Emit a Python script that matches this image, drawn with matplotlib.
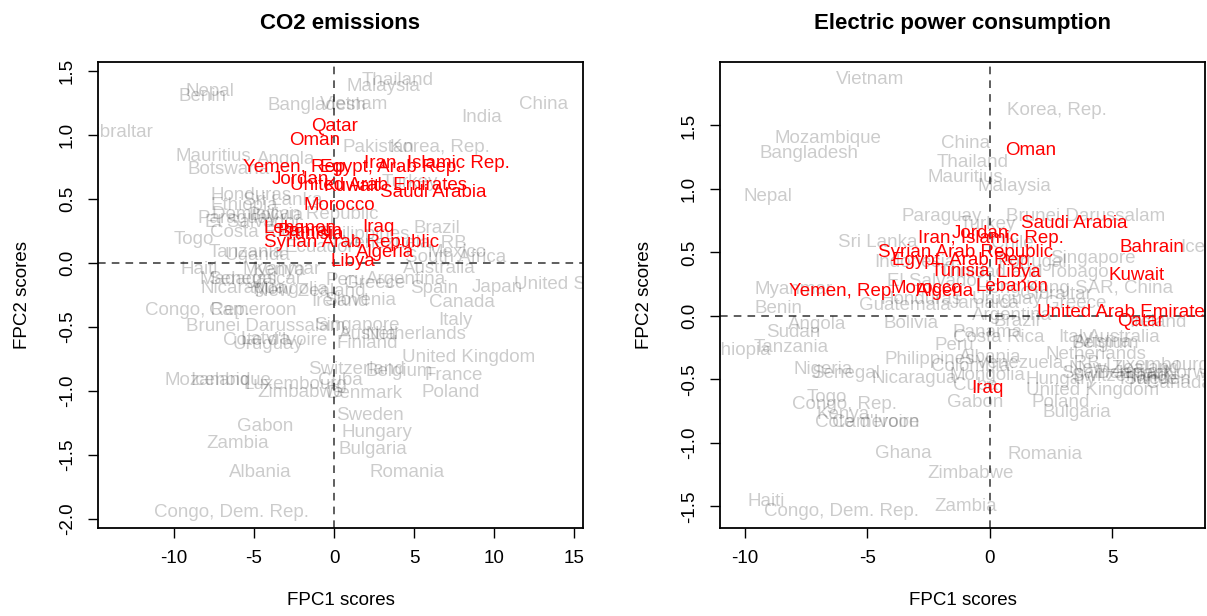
import matplotlib
matplotlib.use("Agg")
import matplotlib.pyplot as plt

plt.rcParams['font.family'] = ['Liberation Sans', 'DejaVu Sans']

# ---------------- CO2 emissions panel ----------------
co2_gray_names = ["Nepal", "Benin", "Bangladesh", "Vietnam", "Thailand", "Malaysia", "China", "India",
                  "Pakistan", "Korea, Rep.", "Gibraltar", "Mauritius", "Botswana", "Angola", "Honduras",
                  "Sri Lanka", "Ethiopia", "Dominican Republic", "Paraguay", "Bolivia", "El Salvador",
                  "Costa Rica", "Togo", "Tanzania", "Uganda", "Philippines", "Haiti", "Myanmar", "Kenya",
                  "Madagascar", "Senegal", "Nicaragua", "Mongolia", "New Zealand", "Congo, Rep.", "Cameroon",
                  "Ireland", "Brunei Darussalam", "Peru", "Argentina", "Greece", "Spain", "Japan",
                  "United States", "Slovenia", "Singapore", "Canada", "Italy", "Austria", "Netherlands",
                  "Finland", "United Kingdom", "Belgium", "Switzerland", "France", "Cuba", "Denmark", "Poland",
                  "Zimbabwe", "Mozambique", "Iceland", "Luxembourg", "Cote d'Ivoire", "Latvia", "Uruguay",
                  "Gabon", "Zambia", "Albania", "Congo, Dem. Rep.", "Sweden", "Hungary", "Bulgaria", "Romania",
                  "Mexico", "South Africa", "Venezuela, RB", "Brazil", "Australia", "Turkey", "Ecuador"]
co2_gray_x = [-7.75, -8.25, -1.06, 1.25, 4.0, 3.06, 13.1, 9.2,
              2.75, 6.6, -13.56, -7.56, -6.6, -3.0, -5.2,
              -3.2, -5.6, -2.45, -6.0, -3.6, -5.06,
              -4.9, -8.75, -5.5, -4.8, 1.94, -8.4, -3.25, -3.4,
              -5.2, -5.7, -5.7, -2.75, -1.5, -8.55, -5.1,
              0.4, -4.25, 0.7, 4.5, 2.56, 6.25, 10.2,
              14.75, 1.6, 1.4, 8.0, 7.6, 2.1, 5.1,
              2.1, 8.4, 4.1, 1.4, 7.5, 0.4, 1.9, 7.3,
              -2.1, -7.25, -7.1, -2.4, -3.7, -4.3, -4.1,
              -4.3, -6.05, -4.6, -6.4, 2.25, 2.7, 2.45, 4.55,
              7.7, 7.6, 4.4, 6.4, 6.6, 4.75, -0.9]
co2_gray_y = [1.34, 1.30, 1.23, 1.24, 1.43, 1.385, 1.24, 1.135,
              0.90, 0.90, 1.02, 0.83, 0.73, 0.81, 0.53,
              0.49, 0.45, 0.38, 0.35, 0.37, 0.32,
              0.24, 0.18, 0.08, 0.06, 0.22, -0.05, -0.05, -0.06,
              -0.13, -0.13, -0.20, -0.21, -0.22, -0.37, -0.37,
              -0.30, -0.50, -0.14, -0.13, -0.16, -0.20, -0.19,
              -0.17, -0.29, -0.49, -0.31, -0.45, -0.56, -0.56,
              -0.63, -0.74, -0.85, -0.83, -0.88, -0.92, -1.02, -1.01,
              -1.01, -0.92, -0.92, -0.95, -0.61, -0.60, -0.64,
              -1.28, -1.41, -1.64, -1.95, -1.19, -1.33, -1.46, -1.64,
              0.08, 0.04, 0.16, 0.27, -0.04, 0.63, 0.12]

co2_red_names = ["Qatar", "Oman", "Yemen, Rep.", "Egypt, Arab Rep.", "Iran, Islamic Rep.", "Jordan",
                 "United Arab Emirates", "Kuwait", "Saudi Arabia", "Morocco", "Lebanon", "Bahrain",
                 "Tunisia", "Syrian Arab Republic", "Iraq", "Algeria", "Libya"]
co2_red_x = [0.06, -1.2, -2.3, 3.56, 6.45, -2.1, 2.75, 1.1, 6.2, 0.3, -2.1, -1.5, -1.2, 1.1, 2.75, 3.2, 1.2]
co2_red_y = [1.07, 0.955, 0.75, 0.75, 0.775, 0.65, 0.61, 0.60, 0.555, 0.45, 0.27, 0.25, 0.22, 0.16, 0.28, 0.08, 0.01]

co2_xticks = [-10, -5, 0, 5, 10, 15]
co2_yticks = [-2.0, -1.5, -1.0, -0.5, 0.0, 0.5, 1.0, 1.5]

# ---------------- Electric power consumption panel ----------------
elec_gray_names = ["Vietnam", "Mozambique", "Bangladesh", "Nepal", "China", "Thailand", "Mauritius", "Malaysia",
                   "Korea, Rep.", "Paraguay", "Turkey", "Brunei Darussalam", "Sri Lanka", "Chile", "Indonesia",
                   "Singapore", "Portugal", "Trinidad and Tobago", "Hong Kong SAR, China", "Iceland", "Myanmar",
                   "Benin", "El Salvador", "Honduras", "Guatemala", "Jamaica", "Bolivia", "Angola", "Sudan",
                   "Panama", "Uruguay", "Gibraltar", "Greece", "Argentina", "Brazil", "Ireland", "Costa Rica",
                   "Peru", "Italy", "Australia", "Austria", "Belgium", "Netherlands", "Albania", "Philippines",
                   "Venezuela, RB", "New Zealand", "Luxembourg", "Colombia", "Nicaragua", "Mongolia", "Hungary",
                   "Canada", "Norway", "Denmark", "Switzerland", "Japan", "Spain", "France", "Sweden",
                   "United Kingdom", "Cuba", "Gabon", "Poland", "Bulgaria", "Romania", "Zimbabwe", "Zambia",
                   "Ghana", "Haiti", "Congo, Dem. Rep.", "Ethiopia", "Tanzania", "Nigeria", "Senegal", "Togo",
                   "Congo, Rep.", "Kenya", "Cote d'Ivoire", "Cameroon"]
elec_gray_x = [-4.9, -6.6, -7.4, -9.06, -1.0, -0.7, -1.0, 0.98,
               2.73, -1.96, -0.1, 3.9, -4.6, 0.9, -3.06,
               4.2, 1.75, 1.4, 3.45, 9.0, -8.0,
               -8.65, -2.25, -2.8, -3.47, -0.2, -3.2, -7.06, -8.04,
               -0.08, 0.7, 2.7, 3.5, 0.9, 1.1, 6.85, 0.37,
               -1.47, 3.5, 5.47, 4.6, 4.7, 4.33, 0.0, -2.45,
               1.95, 5.5, 6.85, -0.8, -3.1, -0.1, 2.9,
               7.7, 8.4, 5.9, 5.3, 6.1, 3.9, 6.5, 6.8,
               4.2, -0.6, -0.6, 2.9, 3.55, 2.25, -0.78, -0.98,
               -3.55, -9.14, -6.08, -10.3, -8.1, -6.8, -5.9, -6.65,
               -5.95, -6.0, -5.0, -4.65]
elec_gray_y = [1.86, 1.40, 1.28, 0.94, 1.36, 1.21, 1.09, 1.02,
               1.62, 0.78, 0.72, 0.78, 0.58, 0.57, 0.42,
               0.45, 0.42, 0.34, 0.22, 0.54, 0.21,
               0.06, 0.27, 0.13, 0.08, 0.10, -0.06, -0.07, -0.13,
               -0.13, 0.13, 0.17, 0.10, 0.0, -0.04, -0.05, -0.17,
               -0.23, -0.17, -0.17, -0.21, -0.22, -0.30, -0.33, -0.34,
               -0.37, -0.41, -0.39, -0.40, -0.49, -0.47, -0.50,
               -0.53, -0.45, -0.45, -0.48, -0.45, -0.45, -0.50, -0.50,
               -0.59, -0.55, -0.68, -0.68, -0.76, -1.09, -1.24, -1.50,
               -1.08, -1.46, -1.54, -0.27, -0.25, -0.42, -0.45, -0.64,
               -0.70, -0.78, -0.84, -0.84]

elec_red_names = ["Oman", "Saudi Arabia", "Iran, Islamic Rep.", "Jordan", "Syrian Arab Republic",
                  "Egypt, Arab Rep.", "Tunisia", "Libya", "Lebanon", "Morocco", "Algeria", "Yemen, Rep.",
                  "Bahrain", "Kuwait", "United Arab Emirates", "Qatar", "Iraq"]
elec_red_x = [1.67, 3.45, 0.04, -0.4, -0.98, -1.1, -1.2, 1.17, 0.9, -2.6, -1.84, -6.0, 6.6, 5.97, 5.55, 6.15, -0.12]
elec_red_y = [1.30, 0.73, 0.61, 0.65, 0.50, 0.44, 0.35, 0.34, 0.23, 0.22, 0.19, 0.19, 0.54, 0.32, 0.03, -0.04, -0.57]

elec_xticks = [-10, -5, 0, 5]
elec_yticks = [-1.5, -1.0, -0.5, 0.0, 0.5, 1.0, 1.5]

titles = ["CO2 emissions", "Electric power consumption"]

W, H = 1207, 616
fig = plt.figure(figsize=(W / 100, H / 100), dpi=100)
box_bottom, box_top = 528, 62
ax1 = fig.add_axes([98 / W, (H - box_bottom) / H, 485 / W, (box_bottom - box_top) / H])
ax2 = fig.add_axes([720 / W, (H - box_bottom) / H, 485 / W, (box_bottom - box_top) / H])

FS = 13.5
panels = [
    (ax1, co2_gray_names, co2_gray_x, co2_gray_y, co2_red_names, co2_red_x, co2_red_y,
     (-14.75, 15.56), (-2.074, 1.573), co2_xticks, co2_yticks, titles[0]),
    (ax2, elec_gray_names, elec_gray_x, elec_gray_y, elec_red_names, elec_red_x, elec_red_y,
     (-11.02, 8.78), (-1.67, 2.0), elec_xticks, elec_yticks, titles[1]),
]

for (ax, gn, gx, gy, rn, rx, ry, xl, yl, xt, yt, title) in panels:
    ax.set_xlim(*xl)
    ax.set_ylim(*yl)
    for n, x, y in zip(gn, gx, gy):
        ax.text(x, y, n, color='black', alpha=0.2, fontsize=FS, ha='center', va='center', clip_on=True)
    for n, x, y in zip(rn, rx, ry):
        ax.text(x, y, n, color='red', fontsize=FS, ha='center', va='center', clip_on=True)
    ax.axhline(0, color='#333333', lw=1.1, ls=(0, (5, 4)))
    ax.axvline(0, color='#333333', lw=1.1, ls=(0, (5, 4)))
    ax.set_xticks(xt)
    ax.set_xticklabels([str(v) for v in xt])
    ax.set_yticks(yt)
    ax.set_yticklabels(["%.1f" % v for v in yt])
    ax.tick_params(axis='both', direction='out', length=7, width=1, labelsize=FS, pad=9)
    for lbl in ax.get_yticklabels():
        lbl.set_rotation(90)
        lbl.set_va('center')
    for s in ax.spines.values():
        s.set_linewidth(1.3)
        s.set_color('black')
    ax.set_xlabel("FPC1 scores", fontsize=FS, labelpad=18)
    ax.set_ylabel("FPC2 scores", fontsize=FS, labelpad=20)
    ax.set_title(title, fontsize=16, fontweight='bold', pad=24)

fig.savefig("out.png", dpi=100)
